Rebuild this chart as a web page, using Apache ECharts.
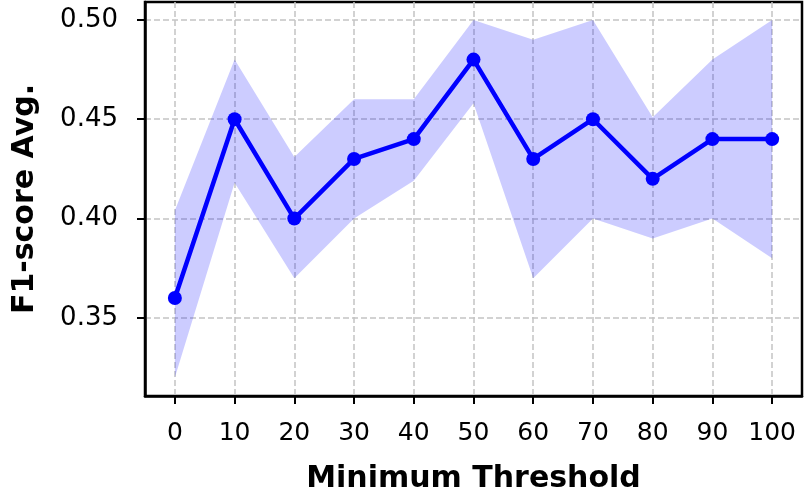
<!DOCTYPE html>
<html>
<head>
<meta charset="utf-8">
<script src="https://cdn.jsdelivr.net/npm/echarts@6/dist/echarts.min.js"></script>
<style>html,body{margin:0;padding:0;background:#fff}#c{width:804px;height:495px}</style>
</head>
<body>
<div id="c"></div>
<script>
const thresholds = [0, 10, 20, 30, 40, 50, 60, 70, 80, 90, 100];
const f1Mean  = [0.36, 0.45, 0.40, 0.43, 0.44, 0.48, 0.43, 0.45, 0.42, 0.44, 0.44];
const f1Upper = [0.404, 0.48, 0.431, 0.46, 0.46, 0.50, 0.49, 0.50, 0.451, 0.48, 0.50];
const f1Lower = [0.32, 0.418, 0.37, 0.40, 0.419, 0.458, 0.37, 0.40, 0.39, 0.40, 0.38];
const xTicks = [0, 10, 20, 30, 40, 50, 60, 70, 80, 90, 100];
const yTicks = [0.35, 0.40, 0.45, 0.50];

const chart = echarts.init(document.getElementById('c'), null, {renderer: 'canvas'});
const font = 'DejaVu Sans';
const gridLine = {show: true, lineStyle: {color: '#c4c4c4', width: 1.5, type: [6, 3]}};
const bandData = thresholds.map((x, i) => [x, f1Lower[i], f1Upper[i]]);
chart.setOption({
  animation: false,
  backgroundColor: '#fff',
  grid: {left: 145, right: 2, top: 2, bottom: 99, show: true, borderColor: '#000', borderWidth: 2.5,
         backgroundColor: 'transparent', outerBoundsMode: 'none', containLabel: false},
  xAxis: {
    type: 'value', min: -5, max: 105,
    name: 'Minimum Threshold', nameLocation: 'middle', nameGap: 68,
    nameTextStyle: {fontFamily: font, fontWeight: 'bold', fontSize: 30, color: '#000'},
    axisLine: {show: true, onZero: false, lineStyle: {color: '#000', width: 2.5}},
    axisTick: {show: true, customValues: xTicks, length: 8, lineStyle: {color: '#000', width: 2}},
    axisLabel: {customValues: xTicks, fontFamily: font, fontSize: 25, color: '#000', margin: 25},
    splitLine: gridLine
  },
  yAxis: {
    type: 'value', min: 0.3107, max: 0.509,
    name: 'F1-score Avg.', nameLocation: 'middle', nameGap: 105, nameRotate: 90,
    nameTextStyle: {fontFamily: font, fontWeight: 'bold', fontSize: 30, color: '#000'},
    axisLine: {show: true, onZero: false, lineStyle: {color: '#000', width: 2.5}},
    axisTick: {show: true, customValues: yTicks, length: 8, lineStyle: {color: '#000', width: 2}},
    axisLabel: {customValues: yTicks, fontFamily: font, fontSize: 26, color: '#000', margin: 27,
      formatter: v => v.toFixed(2)},
    splitLine: gridLine
  },
  series: [
    {type: 'custom', data: bandData, encode: {x: 0, y: [1, 2]}, silent: true, z: 1,
     renderItem: function (params, api) {
       if (params.dataIndex !== 0) return null;
       const top = bandData.map(d => api.coord([d[0], d[2]]));
       const bot = bandData.map(d => api.coord([d[0], d[1]])).reverse();
       return {type: 'polygon', shape: {points: top.concat(bot)},
               style: {fill: 'rgba(0,0,255,0.2)', stroke: null}};
     }},
    {type: 'line', data: thresholds.map((x, i) => [x, f1Mean[i]]),
     symbol: 'circle', symbolSize: 14, itemStyle: {color: '#0000ff'},
     lineStyle: {color: '#0000ff', width: 4.5}, z: 5}
  ]
});
</script>
</body>
</html>
